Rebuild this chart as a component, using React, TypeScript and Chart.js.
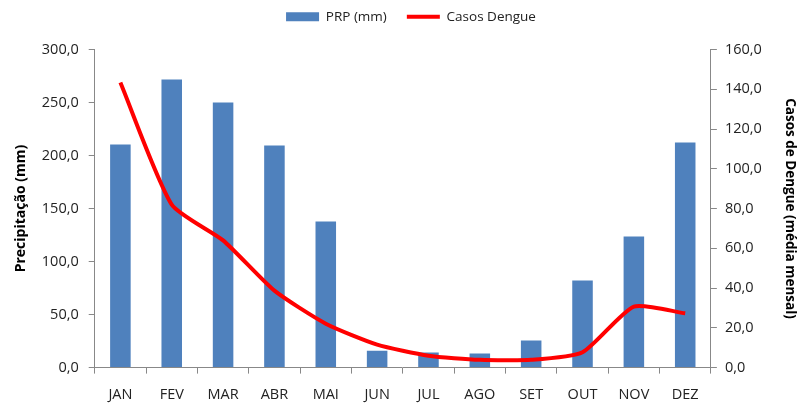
import React, { useEffect, useRef } from "react";
import { Chart, registerables } from "chart.js";

Chart.register(...registerables);

const months = ["JAN", "FEV", "MAR", "ABR", "MAI", "JUN", "JUL", "AGO", "SET", "OUT", "NOV", "DEZ"];
const precipitation = [210.4, 271.7, 250.0, 209.4, 137.7, 16.0, 14.2, 13.2, 25.5, 82.1, 123.6, 212.3];
const dengueCases = [143.4, 82.0, 64.0, 38.7, 22.1, 11.6, 6.0, 3.9, 3.9, 7.7, 30.7, 27.3];

const FONT = "'Open Sans', sans-serif";
const TICK_SIZE = 14.5;

const legendSpacing = {
  id: "legendSpacing",
  beforeInit(chart: any) {
    if (!chart.legend) return;
    const orig = chart.legend.fit;
    chart.legend.fit = function fit() {
      orig.call(this);
      this.height += 16;
    };
  },
};

export default function App() {
  const canvasRef = useRef<HTMLCanvasElement | null>(null);

  useEffect(() => {
    document.body.style.margin = "0";
    const canvas = canvasRef.current;
    if (!canvas) return;
    const fmt = (v: any) => Number(v).toFixed(1).replace(".", ",");
    const chart = new Chart(canvas, {
      type: "bar",
      data: {
        labels: months,
        datasets: [
          {
            type: "bar",
            label: "PRP (mm)",
            data: precipitation,
            backgroundColor: "#4F81BD",
            borderWidth: 0,
            yAxisID: "y",
            barPercentage: 0.4,
            categoryPercentage: 1,
            pointStyle: "rect",
            order: 2,
          },
          {
            type: "line",
            label: "Casos Dengue",
            data: dengueCases,
            borderColor: "#FF0000",
            backgroundColor: "#FF0000",
            borderWidth: 4,
            pointRadius: 0,
            tension: 0.2,
            yAxisID: "y1",
            pointStyle: "line",
            order: 1,
          },
        ],
      },
      options: {
        responsive: false,
        animation: false,
        layout: { padding: { left: 14, right: -10, top: -10, bottom: -10 } },
        plugins: {
          tooltip: { enabled: false },
          legend: {
            position: "top",
            labels: {
              usePointStyle: true,
              pointStyleWidth: 33,
              boxHeight: 9,
              color: "#222",
              font: { family: FONT, size: 13.5 },
              padding: 20,
              sort: (a: any, b: any) => a.datasetIndex - b.datasetIndex,
            },
          },
        },
        scales: {
          x: {
            grid: {
              display: true,
              drawOnChartArea: false,
              drawTicks: true,
              tickLength: 6,
              color: "#888",
              offset: true,
            },
            border: { color: "#888" },
            ticks: { color: "#222", font: { family: FONT, size: TICK_SIZE }, padding: 13, maxRotation: 0 },
          },
          y: {
            position: "left",
            min: 0,
            max: 300,
            grid: { display: true, drawOnChartArea: false, drawTicks: true, tickLength: 6, color: "#888" },
            border: { color: "#888" },
            ticks: {
              stepSize: 50,
              color: "#222",
              font: { family: FONT, size: TICK_SIZE },
              padding: 10,
              callback: fmt,
            },
            title: {
              display: true,
              text: "Precipitação (mm)",
              color: "#000",
              font: { family: FONT, size: 14, weight: "bold" },
              padding: { top: -1, bottom: 2 },
            },
          },
          y1: {
            position: "right",
            min: 0,
            max: 160,
            grid: { display: true, drawOnChartArea: false, drawTicks: true, tickLength: 6, color: "#888" },
            border: { color: "#888" },
            ticks: {
              stepSize: 20,
              color: "#222",
              font: { family: FONT, size: TICK_SIZE },
              padding: 8,
              callback: fmt,
            },
            title: {
              display: true,
              text: "Casos de Dengue (média mensal)",
              color: "#000",
              font: { family: FONT, size: 13.5, weight: "bold" },
              padding: { top: 10, bottom: 12 },
            },
          },
        },
      },
      plugins: [legendSpacing],
    } as any);
    return () => chart.destroy();
  }, []);

  return (
    <div style={{ position: "absolute", left: 0, top: 0, width: 798, height: 407, background: "#fff" }}>
      <canvas ref={canvasRef} width={798} height={407} style={{ width: 798, height: 407, display: "block" }} />
    </div>
  );
}
